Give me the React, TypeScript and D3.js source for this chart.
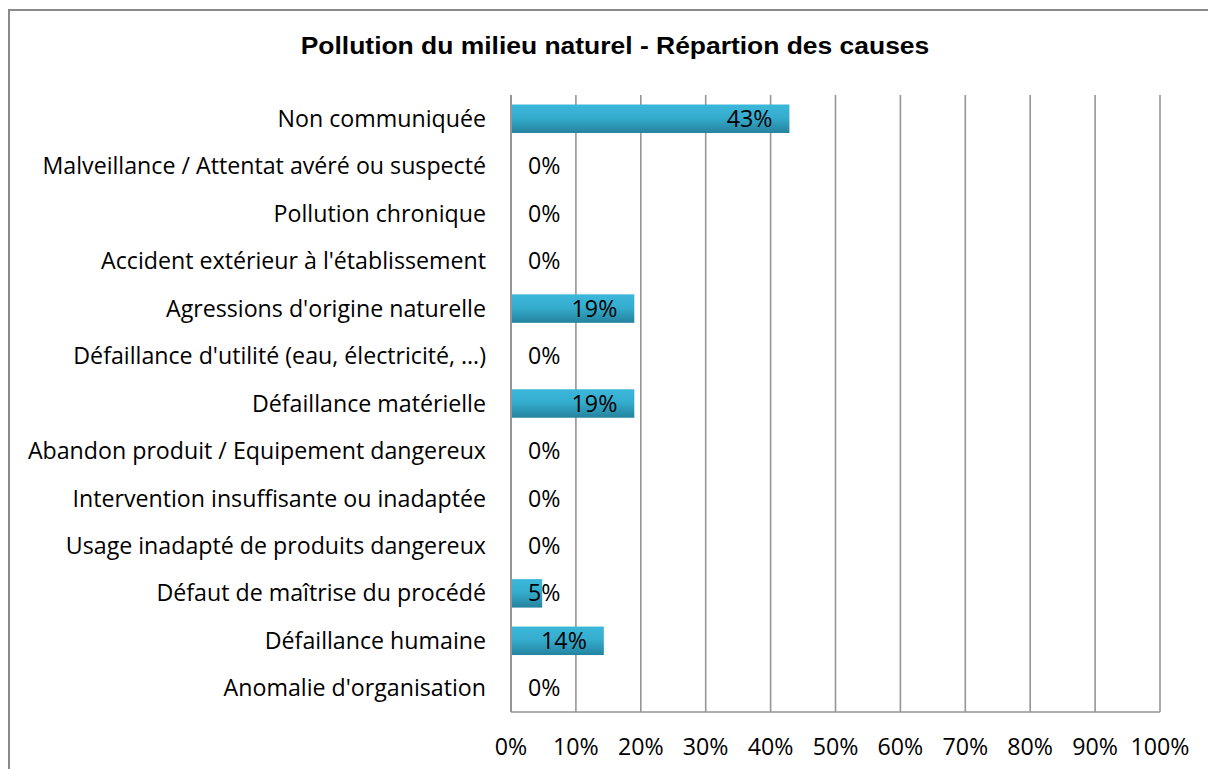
import React from "react";
import * as d3 from "d3";

const categories = [
  "Non communiquée",
  "Malveillance / Attentat avéré ou suspecté",
  "Pollution chronique",
  "Accident extérieur à l'établissement",
  "Agressions d'origine naturelle",
  "Défaillance d'utilité (eau, électricité, …)",
  "Défaillance matérielle",
  "Abandon produit / Equipement dangereux",
  "Intervention insuffisante ou inadaptée",
  "Usage inadapté de produits dangereux",
  "Défaut de maîtrise du procédé",
  "Défaillance humaine",
  "Anomalie d'organisation",
];
const values = [0.429, 0, 0, 0, 0.19, 0, 0.19, 0, 0, 0, 0.048, 0.143, 0];
const ticks = [0, 0.1, 0.2, 0.3, 0.4, 0.5, 0.6, 0.7, 0.8, 0.9, 1];
const title = "Pollution du milieu naturel - Répartion des causes";

const W = 1208;
const H = 769;
const plot = { left: 511, right: 1160, top: 95, bottom: 712 };
const labelFont = "'Open Sans', 'DejaVu Sans', sans-serif";
const labelSize = 23.2;

export default function App() {
  const x = d3.scaleLinear().domain([0, 1]).range([plot.left, plot.right]);
  const y = d3
    .scaleBand<string>()
    .domain(categories)
    .range([plot.top, plot.bottom])
    .paddingInner(0.4)
    .paddingOuter(0.2);
  const fmt = d3.format(".0%");
  const estWidth = (s: string) =>
    s.split("").reduce((a, c) => a + (c === "%" ? 17 : 13.5), 0);

  return (
    <svg
      width={W}
      height={H}
      style={{ position: "absolute", left: 0, top: 0, background: "#fff" }}
    >
      <defs>
        <linearGradient id="barGrad" x1="0" y1="0" x2="0" y2="1">
          <stop offset="0%" stopColor="#3BB7DA" />
          <stop offset="45%" stopColor="#35ADCF" />
          <stop offset="100%" stopColor="#24839E" />
        </linearGradient>
      </defs>
      <rect x={9} y={10} width={1240} height={800} fill="#fff" stroke="#8a8a8a" strokeWidth={2} />
      <text
        x={615}
        y={54}
        textAnchor="middle"
        fontFamily="'Liberation Sans', Arial, sans-serif"
        fontWeight="bold"
        fontSize={23.3}
        transform={`translate(615,0) scale(1.135,1) translate(-615,0)`}
        fill="#000"
      >
        {title}
      </text>
      {ticks.map((t) => (
        <line
          key={"g" + t}
          x1={x(t)}
          x2={x(t)}
          y1={plot.top}
          y2={plot.bottom}
          stroke="#959595"
          strokeWidth={t === 0 ? 2 : 1.6}
        />
      ))}
      <line x1={plot.left} x2={plot.right} y1={plot.bottom} y2={plot.bottom} stroke="#959595" strokeWidth={1.6} />
      {ticks.map((t) => (
        <text
          key={"t" + t}
          x={x(t)}
          y={755}
          textAnchor="middle"
          fontFamily={labelFont}
          fontSize={labelSize}
          fill="#000"
        >
          {fmt(t)}
        </text>
      ))}
      {categories.map((c, i) => {
        const yc = (y(c) as number) + y.bandwidth() / 2;
        const v = values[i];
        const end = x(v);
        const label = fmt(v);
        const w = estWidth(label);
        const inside = end - 17 - w >= plot.left + 17;
        return (
          <g key={c}>
            <text
              x={plot.left - 25}
              y={yc}
              dy="0.35em"
              textAnchor="end"
              fontFamily={labelFont}
              fontSize={labelSize}
              fill="#000"
            >
              {c}
            </text>
            {v > 0 && (
              <rect
                x={x(0) + 1}
                y={y(c)}
                width={end - x(0) - 1}
                height={y.bandwidth()}
                fill="url(#barGrad)"
              />
            )}
            <text
              x={inside ? end - 17 : plot.left + 17}
              y={yc}
              dy="0.35em"
              textAnchor={inside ? "end" : "start"}
              fontFamily={labelFont}
              fontSize={labelSize}
              fill="#000"
            >
              {label}
            </text>
          </g>
        );
      })}
    </svg>
  );
}
